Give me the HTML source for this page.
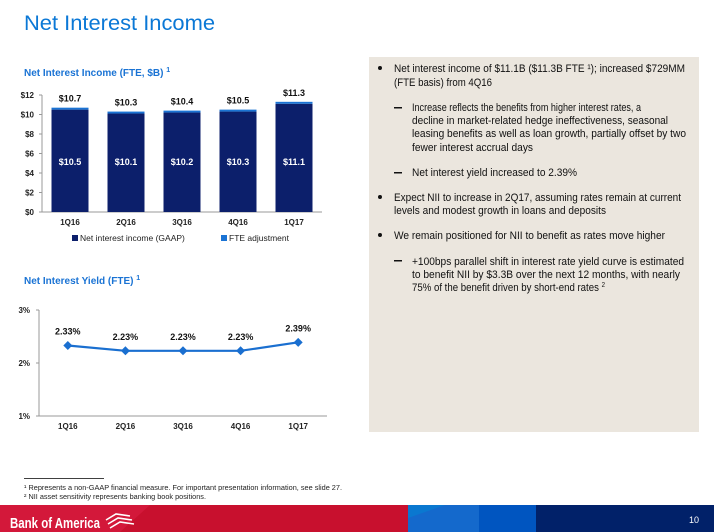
<!DOCTYPE html>
<html><head><meta charset="utf-8"><style>
body{margin:0;width:714px;height:532px;overflow:hidden;background:#fff;font-family:"Liberation Sans",sans-serif}
svg{display:block}
</style></head><body>
<svg id="s" width="714" height="532" viewBox="0 0 714 532" xmlns="http://www.w3.org/2000/svg" font-family="Liberation Sans, sans-serif">
<text x="24" y="30" font-size="21" fill="#0b78d6" textLength="191" lengthAdjust="spacingAndGlyphs">Net Interest Income</text>
<text x="24" y="76" font-size="10" font-weight="bold" fill="#1a73d4">Net Interest Income (FTE, $B) <tspan font-size="7" dy="-4">1</tspan></text>
<text x="24" y="284" font-size="10" font-weight="bold" fill="#1a73d4">Net Interest Yield (FTE) <tspan font-size="7" dy="-4">1</tspan></text>
<g id="bar"></g>
<g id="line"></g>
<rect x="369" y="57" width="330" height="375" fill="#ebe6de"/>
<g font-size="11" fill="#111">
<circle cx="380" cy="68" r="2" fill="#111"/>
<text x="394" y="72" textLength="291" lengthAdjust="spacingAndGlyphs">Net interest income of $11.1B ($11.3B FTE ¹); increased $729MM</text>
<text x="394" y="86" textLength="98" lengthAdjust="spacingAndGlyphs">(FTE basis) from 4Q16</text>
<rect x="394" y="107" width="8" height="1.5" fill="#111"/>
<text x="412" y="111" textLength="229" lengthAdjust="spacingAndGlyphs">Increase reflects the benefits from higher interest rates, a</text>
<text x="412" y="124" textLength="256" lengthAdjust="spacingAndGlyphs">decline in market-related hedge ineffectiveness, seasonal</text>
<text x="412" y="137" textLength="274" lengthAdjust="spacingAndGlyphs">leasing benefits as well as loan growth, partially offset by two</text>
<text x="412" y="151" textLength="121" lengthAdjust="spacingAndGlyphs">fewer interest accrual days</text>
<rect x="394" y="172" width="8" height="1.5" fill="#111"/>
<text x="412" y="176" textLength="165" lengthAdjust="spacingAndGlyphs">Net interest yield increased to 2.39%</text>
<circle cx="380" cy="197" r="2" fill="#111"/>
<text x="394" y="201" textLength="287" lengthAdjust="spacingAndGlyphs">Expect NII to increase in 2Q17, assuming rates remain at current</text>
<text x="394" y="214" textLength="212" lengthAdjust="spacingAndGlyphs">levels and modest growth in loans and deposits</text>
<circle cx="380" cy="235" r="2" fill="#111"/>
<text x="394" y="239" textLength="271" lengthAdjust="spacingAndGlyphs">We remain positioned for NII to benefit as rates move higher</text>
<rect x="394" y="260" width="8" height="1.5" fill="#111"/>
<text x="412" y="265" textLength="272" lengthAdjust="spacingAndGlyphs">+100bps parallel shift in interest rate yield curve is estimated</text>
<text x="412" y="278" textLength="268" lengthAdjust="spacingAndGlyphs">to benefit NII by $3.3B over the next 12 months, with nearly</text>
<text x="412" y="291" textLength="193" lengthAdjust="spacingAndGlyphs">75% of the benefit driven by short-end rates <tspan font-size="7" dy="-4">2</tspan></text>
</g>
<rect x="24" y="478" width="80" height="0.8" fill="#111"/>
<g font-size="7" fill="#222">
<text x="24" y="490" textLength="318" lengthAdjust="spacingAndGlyphs">¹ Represents a non-GAAP financial measure. For important presentation information, see slide 27.</text>
<text x="24" y="499" textLength="182" lengthAdjust="spacingAndGlyphs">² NII asset sensitivity represents banking book positions.</text>
</g>
<g>
<rect x="0" y="505" width="410" height="27" fill="#c8102e"/>
<polygon points="0,505 150,505 120,532 0,532" fill="#d3183a"/>
<rect x="408" y="505" width="72" height="27" fill="#0a78d0"/>
<polygon points="408,532 408,518 445,505 480,505 480,532" fill="#1469cc"/>
<rect x="479" y="505" width="58" height="27" fill="#0055c0"/>
<rect x="536" y="505" width="178" height="27" fill="#012169"/>
<text x="10" y="528" font-size="15" font-weight="bold" fill="#fff" textLength="90" lengthAdjust="spacingAndGlyphs">Bank of America</text>
<g stroke="#fff" stroke-width="1.6" fill="none">
<path d="M106,520 l10,-6 l14,2"/><path d="M108,524 l10,-6 l14,2"/><path d="M110,528 l10,-6 l14,2"/>
</g>
<text x="699" y="523" font-size="9" fill="#fff" text-anchor="end">10</text>
</g>
</svg>
<script>
const categories=["1Q16","2Q16","3Q16","4Q16","1Q17"];
const gaapValues=[10.5,10.1,10.2,10.3,11.1];
const totalValues=[10.7,10.3,10.4,10.5,11.3];
const barTicks=[0,2,4,6,8,10,12];
const yieldValues=[2.33,2.23,2.23,2.23,2.39];
const yieldTicks=[1,2,3];
const NS="http://www.w3.org/2000/svg";
function mk(p,t,a,txt){const e=document.createElementNS(NS,t);for(const k in a)e.setAttribute(k,a[k]);if(txt!==undefined)e.textContent=txt;p.appendChild(e);return e;}
// bar chart
const bg=document.getElementById('bar');
const bx0=42,bx1=322,by0=212,by1=95;
const yB=v=>by0-(v/12)*(by0-by1);
const band=(bx1-bx0)/categories.length;
const xB=i=>bx0+band*(i+0.5);
mk(bg,'line',{x1:bx0,y1:by1,x2:bx0,y2:by0,stroke:'#999','stroke-width':1});
mk(bg,'line',{x1:bx0,y1:by0,x2:bx1,y2:by0,stroke:'#999','stroke-width':1});
barTicks.forEach(t=>{
 const tl=mk(bg,'text',{x:bx0-8,y:yB(t)+3,'font-size':8,'font-weight':'bold',fill:'#222','text-anchor':'end'},'$'+t);
 
 
 mk(bg,'line',{x1:bx0-3,y1:yB(t),x2:bx0,y2:yB(t),stroke:'#999'});
});
categories.forEach((c,i)=>{
 const w=37,x=xB(i)-w/2;
 const g=mk(bg,'rect',{x:x,y:yB(gaapValues[i]),width:w,height:by0-yB(gaapValues[i]),fill:'#0c1f6b'});
 
 
 const f=mk(bg,'rect',{x:x,y:yB(totalValues[i]),width:w,height:yB(gaapValues[i])-yB(totalValues[i]),fill:'#1a73d4'});
 
 
 const t1=mk(bg,'text',{x:xB(i),y:yB(totalValues[i])-6,'font-size':9,'font-weight':'bold',fill:'#111','text-anchor':'middle'},'$'+totalValues[i].toFixed(1));
 
 
 const t2=mk(bg,'text',{x:xB(i),y:165,'font-size':9,'font-weight':'bold',fill:'#fff','text-anchor':'middle'},'$'+gaapValues[i].toFixed(1));
 
 
 const xl=mk(bg,'text',{x:xB(i),y:225,'font-size':8,'font-weight':'bold',fill:'#222','text-anchor':'middle'},c);
 
 
});
const lg1=mk(bg,'rect',{x:72,y:235,width:6,height:6,fill:'#0c1f6b'});


const lt1=mk(bg,'text',{x:80,y:241,'font-size':8.5,fill:'#222'},'Net interest income (GAAP)');


const lg2=mk(bg,'rect',{x:221,y:235,width:6,height:6,fill:'#1a73d4'});


const lt2=mk(bg,'text',{x:229,y:241,'font-size':8.5,fill:'#222'},'FTE adjustment');


// line chart
const lgp=document.getElementById('line');
const lx0=39,lx1=327,ly0=416,ly1=310;
const yL=v=>ly0-(v-1)/2*(ly0-ly1);
const lband=(lx1-lx0)/categories.length;
const xL=i=>lx0+lband*(i+0.5);
mk(lgp,'line',{x1:lx0,y1:ly1,x2:lx0,y2:ly0,stroke:'#999'});
mk(lgp,'line',{x1:lx0,y1:ly0,x2:lx1,y2:ly0,stroke:'#999'});
yieldTicks.forEach(t=>{
 const tl=mk(lgp,'text',{x:lx0-9,y:yL(t)+3,'font-size':8,'font-weight':'bold',fill:'#222','text-anchor':'end'},t+'%');
 
 
 mk(lgp,'line',{x1:lx0-3,y1:yL(t),x2:lx0,y2:yL(t),stroke:'#999'});
});
const pts=yieldValues.map((v,i)=>xL(i)+','+yL(v)).join(' ');
const pl=mk(lgp,'polyline',{points:pts,fill:'none',stroke:'#1a6fd0','stroke-width':2.2});


yieldValues.forEach((v,i)=>{
 const x=xL(i),y=yL(v);
 const d=mk(lgp,'polygon',{points:`${x},${y-4.5} ${x+4.5},${y} ${x},${y+4.5} ${x-4.5},${y}`,fill:'#1a6fd0'});
 
 
 const t=mk(lgp,'text',{x:x,y:y-11,'font-size':9,'font-weight':'bold',fill:'#111','text-anchor':'middle'},v.toFixed(2)+'%');
 
 
 const xl=mk(lgp,'text',{x:x,y:429,'font-size':8,'font-weight':'bold',fill:'#222','text-anchor':'middle'},categories[i]);
 
 
});
</script>
</body></html>
